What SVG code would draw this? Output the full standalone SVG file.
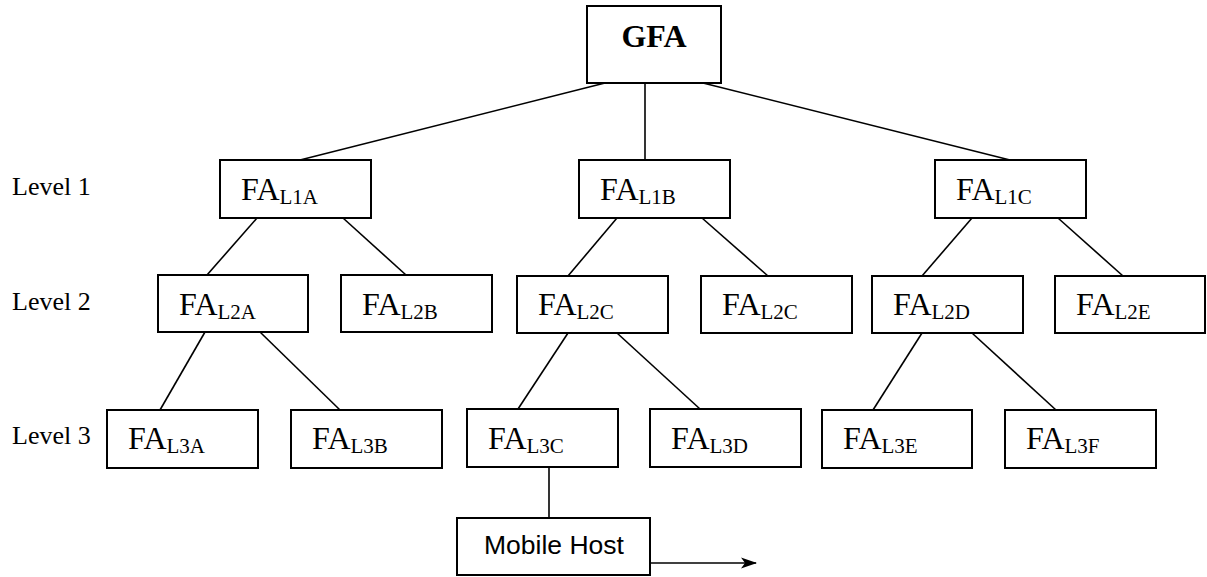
<svg xmlns="http://www.w3.org/2000/svg" width="1207" height="577" viewBox="0 0 1207 577">
  <defs>
    <style>
      .box { fill: #ffffff; stroke: #000000; stroke-width: 2; }
      .edge { stroke: #000000; stroke-width: 1.6; fill: none; }
      .fa { font-family: "Liberation Serif", "Times New Roman", serif; font-size: 32px; fill: #000000; }
      .sub { font-size: 21px; }
      .lvl { font-family: "Liberation Serif", "Times New Roman", serif; font-size: 26px; fill: #000000; }
      .gfa { font-family: "Liberation Serif", "Times New Roman", serif; font-size: 32px; font-weight: bold; fill: #000000; }
      .host { font-family: "Liberation Sans", Arial, sans-serif; font-size: 26.5px; fill: #000000; }
    </style>
    <marker id="arrow" markerUnits="userSpaceOnUse" markerWidth="18" markerHeight="14" refX="16" refY="7" orient="auto">
      <path d="M1,1.5 L17,7 L1,12.5 L5,7 Z" fill="#000000"/>
    </marker>
  </defs>
  <rect width="1207" height="577" fill="#ffffff"/>

  <!-- level labels -->
  <g id="levels">
    <text class="lvl" x="12" y="195">Level 1</text>
    <text class="lvl" x="12" y="310">Level 2</text>
    <text class="lvl" x="12" y="444">Level 3</text>
  </g>

  <!-- tree connectors -->
  <g id="connectors">
    <line class="edge" x1="605" y1="83" x2="300" y2="160"/>
    <line class="edge" x1="645" y1="83" x2="645" y2="160"/>
    <line class="edge" x1="703" y1="83" x2="1010" y2="160"/>

    <line class="edge" x1="257" y1="218" x2="207" y2="275"/>
    <line class="edge" x1="343" y1="218" x2="406" y2="275"/>
    <line class="edge" x1="617" y1="218" x2="568" y2="276"/>
    <line class="edge" x1="702" y1="218" x2="768" y2="276"/>
    <line class="edge" x1="972" y1="218" x2="922" y2="276"/>
    <line class="edge" x1="1058" y1="218" x2="1123" y2="276"/>

    <line class="edge" x1="205" y1="332" x2="160" y2="410"/>
    <line class="edge" x1="260" y1="332" x2="340" y2="410"/>
    <line class="edge" x1="568" y1="333" x2="518" y2="409"/>
    <line class="edge" x1="617" y1="333" x2="700" y2="409"/>
    <line class="edge" x1="922" y1="333" x2="873" y2="410"/>
    <line class="edge" x1="972" y1="333" x2="1056" y2="410"/>

    <line class="edge" x1="549" y1="467" x2="549" y2="518"/>
    <line class="edge" x1="650" y1="563" x2="756" y2="563" marker-end="url(#arrow)"/>
  </g>

  <!-- root -->
  <g id="gfa">
    <rect class="box" x="587" y="6" width="134" height="77"/>
    <text class="gfa" x="654" y="47" text-anchor="middle">GFA</text>
  </g>

  <!-- level 1 agents -->
  <g id="fa-l1a">
    <rect class="box" x="220" y="160" width="151" height="58"/>
    <text class="fa" x="241" y="200">FA<tspan class="sub" dy="4">L1A</tspan></text>
  </g>
  <g id="fa-l1b">
    <rect class="box" x="579" y="160" width="151" height="58"/>
    <text class="fa" x="600" y="200">FA<tspan class="sub" dy="4">L1B</tspan></text>
  </g>
  <g id="fa-l1c">
    <rect class="box" x="935" y="160" width="151" height="58"/>
    <text class="fa" x="956" y="200">FA<tspan class="sub" dy="4">L1C</tspan></text>
  </g>

  <!-- level 2 agents -->
  <g id="fa-l2a">
    <rect class="box" x="158" y="275" width="150" height="57"/>
    <text class="fa" x="179" y="315">FA<tspan class="sub" dy="4">L2A</tspan></text>
  </g>
  <g id="fa-l2b">
    <rect class="box" x="341" y="275" width="151" height="57"/>
    <text class="fa" x="362" y="315">FA<tspan class="sub" dy="4">L2B</tspan></text>
  </g>
  <g id="fa-l2c">
    <rect class="box" x="517" y="276" width="151" height="57"/>
    <text class="fa" x="538" y="315">FA<tspan class="sub" dy="4">L2C</tspan></text>
  </g>
  <g id="fa-l2c-2">
    <rect class="box" x="701" y="276" width="151" height="57"/>
    <text class="fa" x="722" y="315">FA<tspan class="sub" dy="4">L2C</tspan></text>
  </g>
  <g id="fa-l2d">
    <rect class="box" x="872" y="276" width="151" height="57"/>
    <text class="fa" x="893" y="315">FA<tspan class="sub" dy="4">L2D</tspan></text>
  </g>
  <g id="fa-l2e">
    <rect class="box" x="1055" y="276" width="150" height="57"/>
    <text class="fa" x="1076" y="315">FA<tspan class="sub" dy="4">L2E</tspan></text>
  </g>

  <!-- level 3 agents -->
  <g id="fa-l3a">
    <rect class="box" x="107" y="410" width="151" height="58"/>
    <text class="fa" x="128" y="449">FA<tspan class="sub" dy="4">L3A</tspan></text>
  </g>
  <g id="fa-l3b">
    <rect class="box" x="291" y="410" width="151" height="58"/>
    <text class="fa" x="312" y="449">FA<tspan class="sub" dy="4">L3B</tspan></text>
  </g>
  <g id="fa-l3c">
    <rect class="box" x="467" y="409" width="151" height="58"/>
    <text class="fa" x="488" y="449">FA<tspan class="sub" dy="4">L3C</tspan></text>
  </g>
  <g id="fa-l3d">
    <rect class="box" x="650" y="409" width="151" height="58"/>
    <text class="fa" x="671" y="449">FA<tspan class="sub" dy="4">L3D</tspan></text>
  </g>
  <g id="fa-l3e">
    <rect class="box" x="822" y="410" width="150" height="58"/>
    <text class="fa" x="843" y="449">FA<tspan class="sub" dy="4">L3E</tspan></text>
  </g>
  <g id="fa-l3f">
    <rect class="box" x="1005" y="410" width="151" height="58"/>
    <text class="fa" x="1026" y="449">FA<tspan class="sub" dy="4">L3F</tspan></text>
  </g>

  <!-- mobile host -->
  <g id="mobile-host">
    <rect class="box" x="457" y="518" width="193" height="57"/>
    <text class="host" x="484" y="554">Mobile Host</text>
  </g>
</svg>
